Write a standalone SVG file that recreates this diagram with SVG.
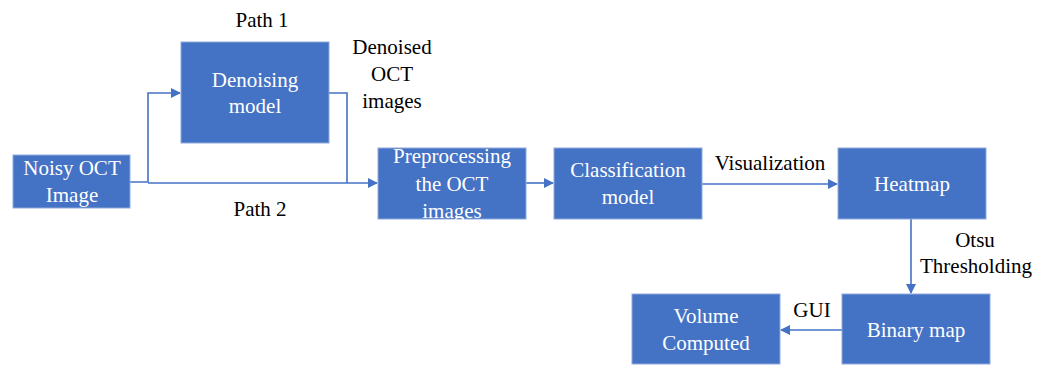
<svg xmlns="http://www.w3.org/2000/svg" width="1051" height="365" viewBox="0 0 1051 365">
<style>
.box{fill:#4472C4;stroke:#8FAADC;stroke-width:1}
text{font-family:"Liberation Serif",Tinos,"Times New Roman",Times,"DejaVu Serif","Noto Serif",serif;font-size:21px;text-anchor:middle}
.bt{fill:#fff}
.lb{fill:#000}
.c{fill:none;stroke:#4472C4;stroke-width:1.6}
</style>
<defs>
<marker id="ah" markerWidth="10" markerHeight="10" refX="9" refY="5" orient="auto" markerUnits="userSpaceOnUse">
<path d="M0,0 L10,5 L0,10 z" fill="#4472C4"/>
</marker>
</defs>
<rect width="1051" height="365" fill="#fff"/>
<g id="connectors">
<path class="c" d="M130,182 H148 V93 H180" marker-end="url(#ah)"/>
<path class="c" d="M148,183 H377" marker-end="url(#ah)"/>
<path class="c" d="M329,93 H347 V183"/>
<path class="c" d="M526,183 H553" marker-end="url(#ah)"/>
<path class="c" d="M702,184 H837" marker-end="url(#ah)"/>
<path class="c" d="M911,219 V293" marker-end="url(#ah)"/>
<path class="c" d="M842,330 H781" marker-end="url(#ah)"/>
</g>
<g id="noisy"><rect class="box" x="13" y="155" width="117" height="53"/>
<text class="bt" x="72" y="175">Noisy OCT</text><text class="bt" x="72" y="202">Image</text></g>
<g id="denoise"><rect class="box" x="181" y="42" width="148" height="101"/>
<text class="bt" x="255" y="87">Denoising</text><text class="bt" x="255" y="113">model</text></g>
<g id="preproc"><rect class="box" x="378" y="148" width="148" height="71"/>
<text class="bt" x="452" y="163">Preprocessing</text><text class="bt" x="452" y="191">the OCT</text><text class="bt" x="452" y="218">images</text></g>
<g id="classif"><rect class="box" x="554" y="148" width="148" height="71"/>
<text class="bt" x="628" y="177">Classification</text><text class="bt" x="628" y="204">model</text></g>
<g id="heatmap"><rect class="box" x="838" y="148" width="148" height="71"/>
<text class="bt" x="912" y="191">Heatmap</text></g>
<g id="binary"><rect class="box" x="842" y="294" width="148" height="70"/>
<text class="bt" x="916" y="337">Binary map</text></g>
<g id="volume"><rect class="box" x="632" y="294" width="148" height="70"/>
<text class="bt" x="706" y="323">Volume</text><text class="bt" x="706" y="350">Computed</text></g>
<g id="labels">
<text class="lb" x="262" y="27">Path 1</text>
<text class="lb" x="260" y="216">Path 2</text>
<text class="lb" x="392" y="54">Denoised</text>
<text class="lb" x="392" y="81">OCT</text>
<text class="lb" x="392" y="108">images</text>
<text class="lb" x="770" y="170">Visualization</text>
<text class="lb" x="975" y="247">Otsu</text>
<text class="lb" x="976" y="273">Thresholding</text>
<text class="lb" x="812" y="317">GUI</text>
</g>
</svg>
